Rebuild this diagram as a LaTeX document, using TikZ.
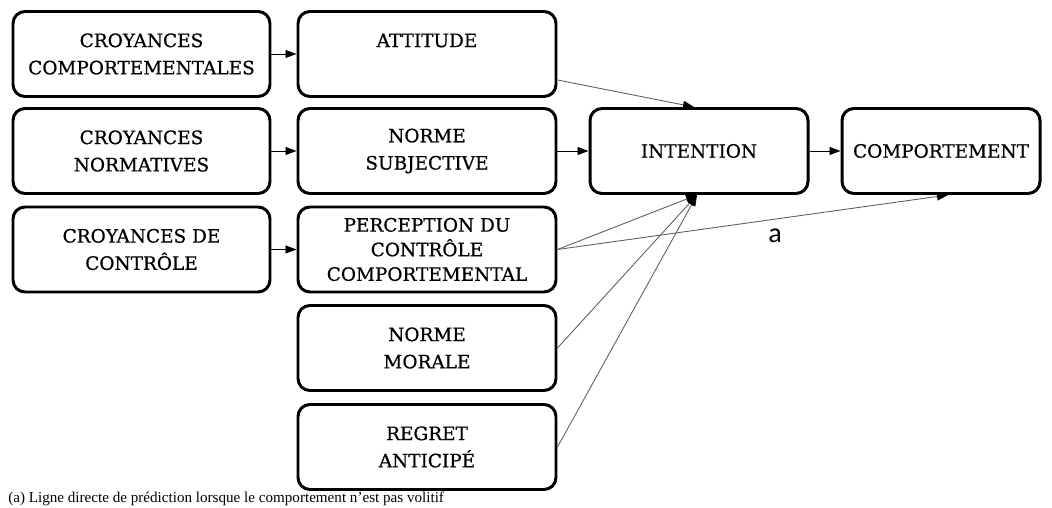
\documentclass[tikz,border=0pt]{standalone}
\usepackage{fontspec}
\setmainfont{Liberation Serif}
\newfontfamily\cajafont[FakeBold=0.6]{DejaVu Serif}
\newfontfamily\etiqueta{Carlito}
\usetikzlibrary{shapes, positioning, arrows.meta}

\definecolor{trazo}{RGB}{95,95,95}

\tikzset{
  caja/.style={draw, line width=1.7pt, rounded corners=0.24cm, align=center,
    minimum height=1.7cm, inner sep=2pt, font=\cajafont\fontsize{10.5}{15.5}\selectfont},
  flecha/.style={draw=black, line width=0.5pt, -{Triangle[length=2.2mm,width=1.6mm]}},
  oblicua/.style={draw=trazo, line width=0.5pt, -{Triangle[length=2.2mm,width=1.6mm,color=black]}}
}

\begin{document}
\begin{tikzpicture}

\useasboundingbox (0,0) rectangle (21.04,10.16);

% Croyances
\node[caja, minimum width=5.14cm] (cc) at (2.83,9.08) {CROYANCES\\COMPORTEMENTALES};
\node[caja, minimum width=5.14cm] (cn) at (2.83,7.14) {CROYANCES\\NORMATIVES};
\node[caja, minimum width=5.14cm] (cctrl) at (2.83,5.17) {CROYANCES DE\\CONTRÔLE};

% Déterminants
\node[caja, minimum width=5.16cm] (att) at (8.54,9.08) {ATTITUDE\\~};
\node[caja, minimum width=5.16cm] (ns) at (8.54,7.14) {NORME\\SUBJECTIVE};
\node[caja, minimum width=5.16cm, font=\cajafont\fontsize{10.5}{14}\selectfont] (pcc) at (8.54,5.17) {PERCEPTION DU\\CONTRÔLE\\COMPORTEMENTAL};
\node[caja, minimum width=5.16cm] (nm) at (8.54,3.20) {NORME\\MORALE};
\node[caja, minimum width=5.16cm] (ra) at (8.54,1.22) {REGRET\\ANTICIPÉ};

% Intention et comportement
\node[caja, minimum width=4.36cm] (int) at (13.98,7.14) {INTENTION};
\node[caja, minimum width=3.96cm] (comp) at (18.82,7.14) {COMPORTEMENT};

% Flèches horizontales
\draw[flecha] (cc) -- (att);
\draw[flecha] (cn) -- (ns);
\draw[flecha] (cctrl) -- (pcc);
\draw[flecha] (ns) -- (int);
\draw[flecha] (int) -- (comp);

% Flèches obliques
\draw[oblicua] ([yshift=-0.52cm]att.east) -- ([xshift=-0.1cm]int.north);
\draw[oblicua] (pcc.east) -- ([xshift=-0.04cm]int.south);
\draw[oblicua] (nm.east) -- ([xshift=-0.04cm]int.south);
\draw[oblicua] (ra.east) -- ([xshift=-0.04cm]int.south);
\draw[oblicua] (pcc.east) -- ([xshift=0.14cm]comp.south);

\node (a) at (15.5,5.44) {\etiqueta\fontsize{16}{18}\selectfont a};

% Note
\node[anchor=base west, inner sep=0pt, font=\fontsize{8.6}{11}\selectfont] (note) at (0.16,0.12)
  {(a) Ligne directe de prédiction lorsque le comportement n’est pas volitif};

\end{tikzpicture}
\end{document}
